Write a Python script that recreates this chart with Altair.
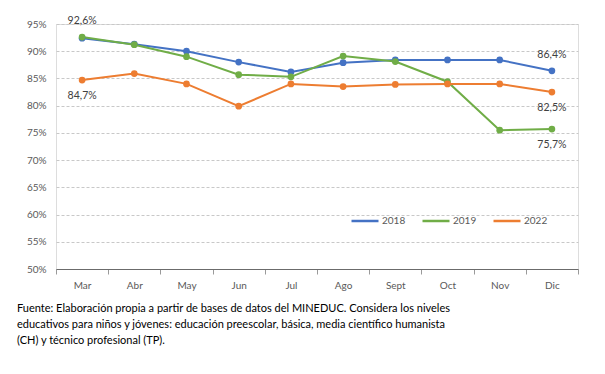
import altair as alt
import pandas as pd

months = ["Mar", "Abr", "May", "Jun", "Jul", "Ago", "Sept", "Oct", "Nov", "Dic"]
series = ["2018", "2019", "2022"]
v2018 = [92.4, 91.3, 90.0, 88.0, 86.2, 87.9, 88.4, 88.4, 88.4, 86.4]
v2019 = [92.6, 91.2, 89.0, 85.7, 85.3, 89.1, 88.1, 84.4, 75.5, 75.7]
v2022 = [84.7, 85.9, 84.0, 79.9, 84.0, 83.5, 83.9, 84.0, 84.0, 82.5]
colors = ["#4472C4", "#70AD47", "#ED7D31"]

label_month = ["Mar", "Mar", "Dic", "Dic", "Dic"]
label_series = ["2019", "2022", "2018", "2022", "2019"]
label_value = [92.6, 84.7, 86.4, 82.5, 75.7]
label_text = ["92,6%", "84,7%", "86,4%", "82,5%", "75,7%"]
label_pos = ["above", "below", "above", "below", "below"]

caption = [
    "Fuente: Elaboración propia a partir de bases de datos del MINEDUC. Considera los niveles",
    "educativos para niños y jóvenes: educación preescolar, básica, media científico humanista",
    "(CH) y técnico profesional (TP).",
]

rows = []
for s, vals in zip(series, [v2018, v2019, v2022]):
    for m, v in zip(months, vals):
        rows.append({"mes": m, "serie": s, "valor": v})
df = pd.DataFrame(rows)

lab = pd.DataFrame({"mes": label_month, "serie": label_series, "valor": label_value,
                    "texto": label_text, "pos": label_pos})
cap = pd.DataFrame({"linea": caption, "i": list(range(len(caption)))})

W, H = 522, 245
FONT = "Lato"

x = alt.X("mes:N", sort=months, title=None,
          scale=alt.Scale(paddingInner=0, paddingOuter=0),
          axis=alt.Axis(labelAngle=0, tickBand="extent", domainColor="#6b6b6b",
                        tickColor="#9a9a9a", tickSize=5, labelColor="#595959",
                        labelFontSize=10, labelPadding=6, labelFont=FONT, grid=False))
y = alt.Y("valor:Q", title=None,
          scale=alt.Scale(domain=[50, 95], nice=False, zero=False),
          axis=alt.Axis(values=list(range(50, 96, 5)), labelExpr="datum.value + '%'",
                        domain=False, ticks=False, labelColor="#595959", labelFontSize=10,
                        labelFont=FONT, labelPadding=10,
                        gridColor="#c8c8c8", gridDash=[3, 2], gridWidth=1))
cscale = alt.Scale(domain=series, range=colors)
color = alt.Color("serie:N", scale=cscale,
                  legend=alt.Legend(title=None, orient="none", direction="horizontal",
                                    legendX=294, legendY=182, symbolType="stroke",
                                    symbolSize=729, symbolStrokeWidth=2.5,
                                    labelFontSize=10, labelColor="#595959",
                                    labelFont=FONT, columnPadding=11, labelOffset=2))

base = alt.Chart(df)
lines = base.mark_line(strokeWidth=2).encode(x=x, y=y, color=color)
points = base.mark_circle(size=45, opacity=1).encode(
    x=x, y=y, color=alt.Color("serie:N", scale=cscale, legend=None))

labels_above = alt.Chart(lab[lab["pos"] == "above"]).mark_text(
    fontSize=10.5, color="#404040", font=FONT, dy=-16).encode(
    x=alt.X("mes:N", sort=months), y=y, text="texto:N")
labels_below = alt.Chart(lab[lab["pos"] == "below"]).mark_text(
    fontSize=10.5, color="#404040", font=FONT, dy=16).encode(
    x=alt.X("mes:N", sort=months), y=y, text="texto:N")

cap_layers = []
for i in range(len(caption)):
    cap_layers.append(
        alt.Chart(cap[cap["i"] == i]).mark_text(
            align="left", baseline="middle", fontSize=11, color="#000000",
            font=FONT).encode(x=alt.value(-39), y=alt.value(285 + 16 * i), text="linea:N"))

chart = alt.layer(lines, points, labels_above, labels_below, *cap_layers).properties(
    width=W, height=H,
    autosize=alt.AutoSizeParams(type="none"),
    padding={"left": 48, "top": 16, "right": 19, "bottom": 97},
).configure_view(stroke=None).configure(background="white")

chart.save("out.html", embed_options={"renderer": "svg", "actions": False})
